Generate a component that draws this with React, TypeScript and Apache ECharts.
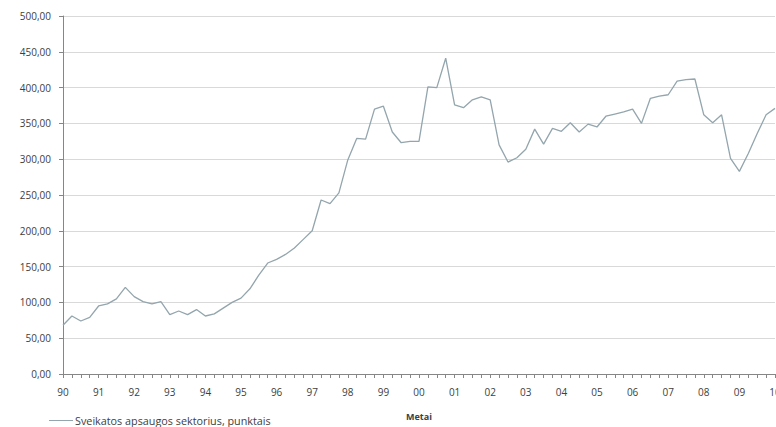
import React, { useEffect, useRef } from "react";
import * as echarts from "echarts";

const years = ["90", "91", "92", "93", "94", "95", "96", "97", "98", "99", "00", "01", "02", "03", "04", "05", "06", "07", "08", "09", "10"];
const quarters = ["1", "2", "3", "4"];

const seriesName = "Sveikatos apsaugos sektorius, punktais";
const values = [
  68, 81, 74, 79, 95, 98, 105, 121, 108, 101, 98, 101, 83, 88, 83, 90,
  81, 84, 92, 100, 106, 119, 138, 155, 160, 167, 176, 188, 200, 243, 238, 253,
  299, 329, 328, 370, 374, 338, 323, 325, 325, 401, 400, 441, 376, 372, 383, 387,
  383, 320, 296, 302, 314, 342, 321, 343, 339, 351, 338, 349, 345, 360, 363, 366,
  370, 350, 385, 388, 390, 409, 411, 412, 362, 351, 362, 301, 283, 308, 336, 362,
  371,
];

const categories: string[] = [];
years.forEach((y) => {
  quarters.forEach((q) => {
    if (categories.length < values.length) categories.push(y + "-" + q);
  });
});

const W = 800;

export default function App() {
  const ref = useRef<HTMLDivElement>(null);
  useEffect(() => {
    if (!ref.current) return;
    const chart = echarts.init(ref.current, null, { renderer: "svg" });
    const font = "'Open Sans', 'Noto Sans', sans-serif";
    chart.setOption({
      animation: false,
      backgroundColor: "#ffffff",
      grid: { left: 63, right: W - 775, top: 16, bottom: 53, containLabel: false },
      legend: {
        left: 44,
        top: 410,
        itemWidth: 24,
        itemHeight: 8,
        itemGap: 4,
        textStyle: { fontFamily: font, fontSize: 10.8, color: "#404040", padding: [0, 0, 0, -3] },
        data: [{ name: seriesName, icon: "path://M0,4 L24,4 L24,5 L0,5 Z" }],
      },
      xAxis: {
        type: "category",
        data: categories,
        boundaryGap: false,
        name: "Metai",
        nameLocation: "middle",
        nameGap: 38,
        nameTextStyle: { fontFamily: font, fontSize: 9, fontWeight: "bold", color: "#404040" },
        axisLine: { lineStyle: { color: "#868686", width: 1 } },
        axisTick: { show: true, interval: 0, length: 4, lineStyle: { color: "#868686" } },
        axisLabel: {
          interval: 3,
          margin: 13,
          fontFamily: font,
          fontSize: 10,
          color: "#404040",
          formatter: (v: string) => v.split("-")[0],
        },
        splitLine: { show: false },
      },
      yAxis: {
        type: "value",
        min: 0,
        max: 500,
        interval: 50,
        axisLine: { show: true, lineStyle: { color: "#868686", width: 1 } },
        axisTick: { show: true, length: 4, lineStyle: { color: "#868686" } },
        axisLabel: {
          margin: 12,
          fontFamily: font,
          fontSize: 10,
          color: "#404040",
          formatter: (v: number) => v.toFixed(2).replace(".", ","),
        },
        splitLine: { lineStyle: { color: "#d9d9d9", width: 1 } },
      },
      series: [
        {
          name: seriesName,
          type: "line",
          data: values,
          showSymbol: false,
          symbol: "none",
          lineStyle: { color: "#93a5ad", width: 1.3 },
          itemStyle: { color: "#93a5ad" },
        },
      ],
    });
    return () => chart.dispose();
  }, []);
  return (
    <div
      style={{ position: "fixed", left: 0, top: 0, width: 776, height: 427, overflow: "hidden", background: "#fff" }}
    >
      <div ref={ref} style={{ width: W, height: 427 }} />
    </div>
  );
}
